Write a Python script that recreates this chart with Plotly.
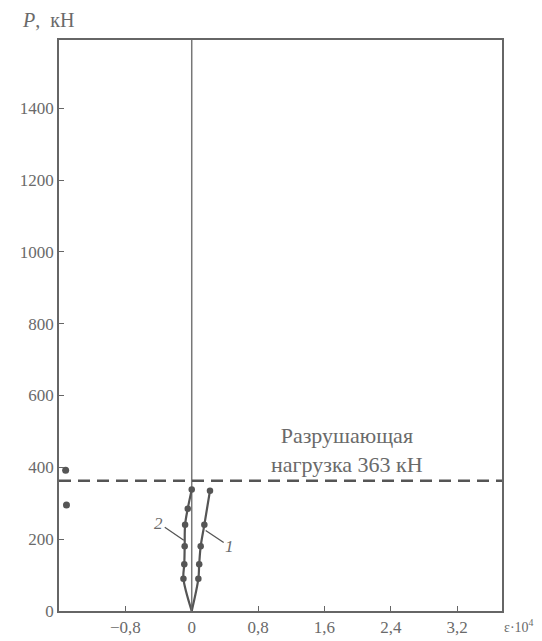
import plotly.graph_objects as go

# ---- data ----
loads_1 = [0, 90, 130, 180, 240, 335]
strain_1 = [0, 0.08, 0.09, 0.108, 0.152, 0.22]

loads_2 = [0, 90, 130, 180, 240, 285, 338]
strain_2 = [0, -0.10, -0.09, -0.085, -0.08, -0.048, 0.0]

loads_3 = [392, 295]
strain_3 = [-1.52, -1.51]

failure_load = 363

x_ticks = [-0.8, 0, 0.8, 1.6, 2.4, 3.2]
x_tick_labels = ["\u22120,8", "0", "0,8", "1,6", "2,4", "3,2"]
y_ticks = [0, 200, 400, 600, 800, 1000, 1200, 1400]
y_tick_labels = [str(v) for v in y_ticks]

ink = "#555555"
txt = "#6a6a6a"
font_family = "Liberation Serif"

fig = go.Figure()

# zero vertical line
fig.add_shape(type="line", xref="x", yref="paper", x0=0, x1=0, y0=0, y1=1,
              line=dict(color="#777777", width=1.5), layer="below")

# failure load dashed line
fig.add_shape(type="line", xref="paper", yref="y", x0=0, x1=1,
              y0=failure_load, y1=failure_load,
              line=dict(color=ink, width=2.5, dash="12px,7px"))

for xs, ys in [(strain_1, loads_1), (strain_2, loads_2)]:
    fig.add_trace(go.Scatter(x=xs, y=ys, mode="lines", line=dict(color=ink, width=2.2, shape="spline"),
                             showlegend=False, hoverinfo="skip"))
    fig.add_trace(go.Scatter(x=xs[1:], y=ys[1:], mode="markers",
                             marker=dict(color=ink, size=6.5), showlegend=False))

fig.add_trace(go.Scatter(x=strain_3, y=loads_3, mode="markers",
                         marker=dict(color=ink, size=7), showlegend=False))

annotations = [
    dict(x=-0.096, y=197, xref="x", yref="y", text="<i>2</i>", showarrow=True,
         arrowhead=0, arrowwidth=1.3, arrowcolor=ink, ax=-25, ay=-17,
         font=dict(size=17, color=txt, family=font_family)),
    dict(x=0.168, y=224, xref="x", yref="y", text="<i>1</i>", showarrow=True,
         arrowhead=0, arrowwidth=1.3, arrowcolor=ink, ax=24, ay=16,
         font=dict(size=17, color=txt, family=font_family)),
    dict(x=1.87, y=449, xref="x", yref="y", text="Разрушающая<br>нагрузка 363 кН",
         showarrow=False, align="center",
         font=dict(size=22, color=txt, family=font_family)),
    dict(x=-0.025, y=1.0, xref="paper", yref="paper", yanchor="middle", yshift=20,
         text="<i>P</i>,\u00a0\u00a0кН", showarrow=False, xanchor="center",
         font=dict(size=20, color=txt, family=font_family)),
    dict(x=1.0, y=0, xref="paper", yref="paper", yanchor="top", xanchor="left",
         xshift=0, yshift=-4,
         text="ε·10<sup>4</sup>", showarrow=False,
         font=dict(size=14, color=txt, family=font_family)),
]

# page body adds an 8 px offset, margins compensate for it
fig.update_layout(
    width=542, height=641,
    margin=dict(l=48, r=48, t=32, b=36),
    plot_bgcolor="white", paper_bgcolor="white",
    annotations=annotations,
    xaxis=dict(range=[-1.6, 3.74], tickvals=x_ticks, ticktext=x_tick_labels,
               showgrid=False, zeroline=False, showline=True, mirror=True,
               linecolor="#666666", linewidth=1.5, ticks="inside", ticklen=5,
               tickcolor="#666666", tickfont=dict(size=17, color=txt, family=font_family)),
    yaxis=dict(range=[0, 1590], tickvals=y_ticks, ticktext=y_tick_labels,
               showgrid=False, zeroline=False, showline=True, mirror=True,
               linecolor="#666666", linewidth=1.5, ticks="inside", ticklen=5,
               tickcolor="#666666", tickfont=dict(size=17, color=txt, family=font_family)),
)

fig.write_html("out.html")
